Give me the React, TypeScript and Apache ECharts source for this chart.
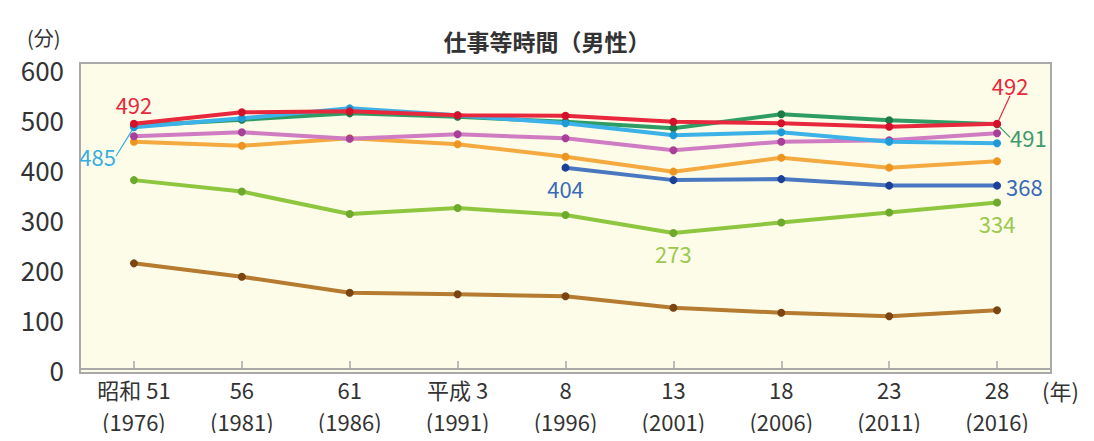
import React, { useEffect, useRef } from "react";
import * as echarts from "echarts";

// Survey years: 和暦 on the first row, 西暦 on the second
const eraLabels = ["昭和 51", "56", "61", "平成 3", "8", "13", "18", "23", "28"];
const yearLabels = ["(1976)", "(1981)", "(1986)", "(1991)", "(1996)", "(2001)", "(2006)", "(2011)", "(2016)"];

// Minutes per day, one array per line
const redValues = [492, 515, 517, 509, 508, 496, 493, 486, 492];
const greenValues = [488, 500, 513, 506, 496, 483, 511, 499, 491];
const cyanValues = [485, 503, 523, 509, 493, 469, 475, 456, 453];
const magentaValues = [467, 475, 462, 471, 463, 439, 456, 459, 473];
const orangeValues = [456, 448, 463, 451, 426, 396, 424, 404, 417];
const blueValues = [null, null, null, null, 404, 379, 381, 368, 368];
const limeValues = [379, 356, 311, 323, 309, 273, 294, 314, 334];
const brownValues = [212, 185, 153, 150, 146, 123, 113, 106, 118];

const yTicks = [0, 100, 200, 300, 400, 500, 600];

const FONT = "'Noto Sans CJK JP', 'Noto Sans', sans-serif";
const TEXT = "#333333";

type LabelSpec = {
  index: number;
  position: string;
  offset?: number[];
  color: string;
  leader?: boolean;
};

function buildData(values: (number | null)[], labels: LabelSpec[]) {
  return values.map((v, i) => {
    const spec = labels.find((l) => l.index === i);
    if (v === null) return "-";
    if (!spec) return v;
    return {
      value: v,
      label: {
        show: true,
        position: spec.position,
        offset: spec.offset || [0, 0],
        color: spec.color,
        fontSize: 22,
        fontFamily: FONT,
        formatter: "{c}",
      },
      labelLine: spec.leader
        ? { show: true, lineStyle: { color: spec.color, width: 1.2 } }
        : { show: false },
    };
  });
}

function lineSeries(
  name: string,
  values: (number | null)[],
  lineColor: string,
  markerColor: string,
  labels: LabelSpec[],
  moves: Record<number, { dx: number; dy: number }> = {},
  z = 2
) {
  return {
    name,
    type: "line",
    xAxisIndex: 0,
    data: buildData(values, labels),
    z,
    symbol: "circle",
    symbolSize: 8,
    showAllSymbol: true,
    connectNulls: false,
    lineStyle: { color: lineColor, width: 4 },
    itemStyle: { color: markerColor },
    label: { show: false },
    emphasis: { disabled: true },
    labelLayout: (p: any) => {
      const m = moves[p.dataIndex];
      return m ? { dx: m.dx, dy: m.dy } : {};
    },
  };
}

const GRID = { left: 80, right: 43, top: 63, bottom: 72 };

export default function App() {
  const ref = useRef<HTMLDivElement>(null);

  useEffect(() => {
    if (!ref.current) return;
    const chart = echarts.init(ref.current, undefined, { renderer: "svg" });

    const baseX = {
      type: "category",
      boundaryGap: true,
      position: "bottom",
      offset: 4,
      splitLine: { show: false },
    };

    const option = {
      animation: false,
      backgroundColor: "#ffffff",
      title: {
        text: "仕事等時間（男性）",
        left: "center",
        top: 24,
        textStyle: {
          fontFamily: FONT,
          fontSize: 23,
          fontWeight: "bold",
          color: TEXT,
        },
      },
      grid: { ...GRID, show: false },
      xAxis: [
        {
          ...baseX,
          data: eraLabels,
          axisLine: { show: true, lineStyle: { color: "#a9a9a9", width: 2 } },
          axisTick: {
            show: true,
            inside: true,
            alignWithLabel: true,
            length: 8,
            lineStyle: { color: "#a9a9a9", width: 1.5 },
          },
          axisLabel: {
            color: TEXT,
            fontFamily: FONT,
            fontSize: 22,
            margin: 5,
            interval: 0,
          },
        },
        {
          ...baseX,
          data: yearLabels,
          axisLine: { show: false },
          axisTick: { show: false },
          axisLabel: {
            color: TEXT,
            fontFamily: FONT,
            fontSize: 22,
            margin: 37,
            interval: 0,
          },
        },
      ],
      yAxis: {
        type: "value",
        min: 0,
        max: 614,
        interval: 100,
        axisLine: { show: false },
        axisTick: { show: false },
        splitLine: { show: false },
        axisLabel: {
          color: TEXT,
          fontFamily: FONT,
          fontSize: 26,
          margin: 16,
          formatter: (v: number) => (yTicks.includes(v) ? String(v) : ""),
        },
      },
      graphic: [
        {
          type: "rect",
          z: 0,
          silent: true,
          shape: { x: 80, y: 63, width: 971, height: 310 },
          style: { fill: "#fcfce9", stroke: "#a9a9a9", lineWidth: 2 },
        },
        {
          type: "text",
          left: 27,
          top: 27,
          style: {
            text: "(分)",
            fontFamily: FONT,
            fontSize: 20,
            fill: TEXT,
          },
        },
        {
          type: "text",
          left: 1042,
          top: 379,
          style: {
            text: "(年)",
            fontFamily: FONT,
            fontSize: 22,
            fill: TEXT,
          },
        },
      ],
      series: [
        lineSeries("brown", brownValues, "#b57b30", "#7a4512", [], {}, 2),
        lineSeries(
          "lime",
          limeValues,
          "#8fc640",
          "#6ea82c",
          [
            { index: 5, position: "bottom", offset: [2, 6], color: "#9cc94e" },
            { index: 8, position: "bottom", offset: [3, 7], color: "#9cc94e" },
          ],
          {},
          3
        ),
        lineSeries(
          "blue",
          blueValues,
          "#4a78c0",
          "#1c3f98",
          [
            { index: 4, position: "bottom", offset: [-10, -6], color: "#3a6ab8" },
            { index: 8, position: "right", offset: [2, 0], color: "#3a6ab8" },
          ],
          {},
          4
        ),
        lineSeries("orange", orangeValues, "#f4aa40", "#ee9420", [], {}, 5),
        lineSeries("magenta", magentaValues, "#cf7cc2", "#a8409a", [], {}, 6),
        lineSeries(
          "green",
          greenValues,
          "#2e9c64",
          "#1d7a48",
          [{ index: 8, position: "right", color: "#3d9a6a", leader: true }],
          { 8: { dx: 4, dy: 13 } },
          7
        ),
        lineSeries(
          "cyan",
          cyanValues,
          "#3cb2e8",
          "#1f9ad6",
          [{ index: 0, position: "left", color: "#3aaee0", leader: true }],
          { 0: { dx: -9, dy: 29 } },
          8
        ),
        lineSeries(
          "red",
          redValues,
          "#e8283c",
          "#d4102a",
          [
            { index: 0, position: "top", offset: [-1, -4], color: "#e8283c" },
            { index: 8, position: "top", color: "#e8283c", leader: true },
          ],
          { 8: { dx: 13, dy: -19 } },
          9
        ),
      ],
    };

    chart.setOption(option as any);
    return () => chart.dispose();
  }, []);

  return <div ref={ref} style={{ width: 1094, height: 441, margin: -8 }} />;
}
